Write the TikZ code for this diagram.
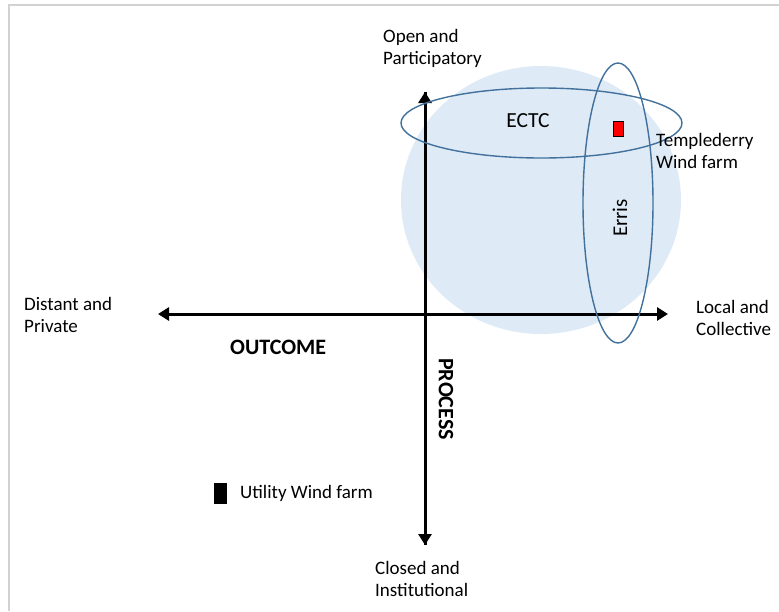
\documentclass[tikz,border=0pt]{standalone}
\usepackage{fontspec}
\setmainfont{Carlito}
\usetikzlibrary{arrows.meta}
\definecolor{zonefill}{RGB}{222,234,246}
\definecolor{ringblue}{RGB}{65,113,156}
\definecolor{framegray}{RGB}{210,210,210}
\begin{document}
\begin{tikzpicture}[x=1pt,y=-1pt,
  lbl/.style={inner sep=0pt,align=left,anchor=west,font=\fontsize{19}{22}\selectfont},
  axislbl/.style={inner sep=0pt,font=\fontsize{22}{24}\selectfont\bfseries},
  ring/.style={draw=ringblue,line width=1.4pt},
  axis/.style={line width=3pt,-{Triangle[length=11pt,width=13pt]}},
  marker/.style={draw=black,line width=0.8pt,inner sep=0pt}]
\useasboundingbox (0,0) rectangle (779,611);
% page frame
\draw[framegray,line width=2pt] (9,611) -- (9,5) -- (779,5);
% shaded zone of community projects
\fill[zonefill] (541,200) ellipse [x radius=140, y radius=134];
% axis end points
\coordinate (oc) at (425,314);
\coordinate (left) at (158,314);
\coordinate (right) at (668,314);
\coordinate (top) at (425,92);
\coordinate (bottom) at (425,545);
\draw[axis] (oc) -- (left);
\draw[axis] (oc) -- (right);
\draw[axis] (bottom) -- (top);
\draw[axis] (top) -- (bottom);
% grouping rings
\draw[ring] (541.5,123) ellipse [x radius=140.5, y radius=35];
\draw[ring] (618,203) ellipse [x radius=35, y radius=140];
% axis labels
\node[lbl] (open) at (383,48) {Open and\\Participatory};
\node[lbl] (closed) at (375,579) {Closed and\\Institutional};
\node[lbl] (distant) at (24,315) {Distant and\\Private};
\node[lbl] (local) at (696,318) {Local and\\Collective};
\node[axislbl,anchor=west] (outcome) at (230,347) {OUTCOME};
\node[axislbl,rotate=-90] (process) at (446,399) {PROCESS};
% group names
\node[inner sep=0pt,font=\fontsize{21.5}{24}\selectfont] (ectc) at (528,121) {ECTC};
\node[inner sep=0pt,font=\fontsize{21}{24}\selectfont,rotate=90] (erris) at (620,218) {Erris};
% wind farms
\node[marker,fill=red,minimum width=10pt,minimum height=15pt] (tmark) at (618,129) {};
\node[lbl] (templederry) at (656,151) {Templederry\\Wind farm};
\node[marker,fill=black,minimum width=12pt,minimum height=20pt] (umark) at (220,493) {};
\node[lbl] (utility) at (240,493) {Utility Wind farm};
\end{tikzpicture}
\end{document}
